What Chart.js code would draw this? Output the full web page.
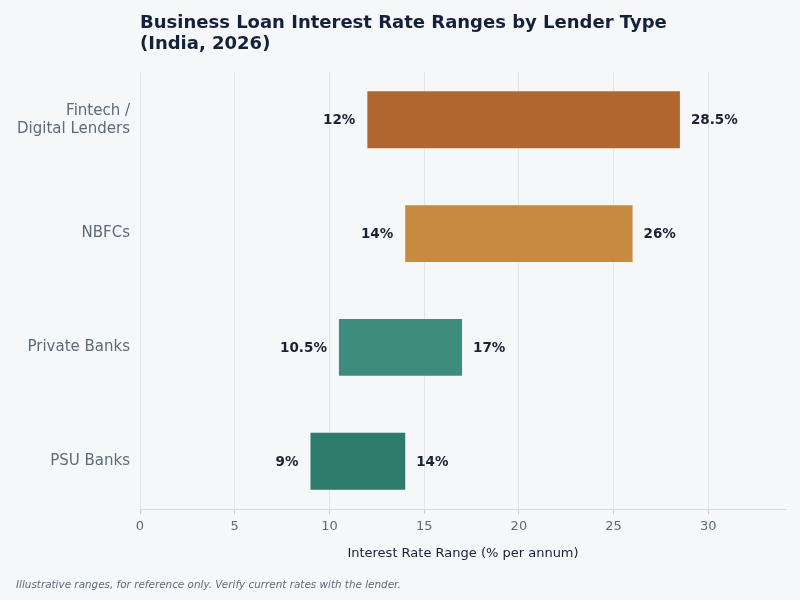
<!DOCTYPE html>
<html>
<head>
<meta charset="utf-8">
<script src="https://cdn.jsdelivr.net/npm/chart.js@4.4.1/dist/chart.umd.min.js"></script>
<style>
html,body{margin:0;padding:0;background:#f5f7f9;}
#wrap{width:800px;height:600px;}
</style>
</head>
<body>
<div id="wrap"><canvas id="chart" width="800" height="600"></canvas></div>
<script>
// lender categories, top to bottom
const lenders = [["Fintech /", "Digital Lenders"], "NBFCs", "Private Banks", "PSU Banks"];
const rateLow = [12, 14, 10.5, 9];
const rateHigh = [28.5, 26, 17, 14];
const barColors = ["#b36730", "#c68a40", "#3e8c7c", "#2e7a6c"];
const xTicks = [0, 5, 10, 15, 20, 25, 30];

const titleLines = ["Business Loan Interest Rate Ranges by Lender Type", "(India, 2026)"];
const footnote = "Illustrative ranges, for reference only. Verify current rates with the lender.";

const fmt = v => v + "%";

Chart.defaults.font.family = "'DejaVu Sans', sans-serif";

const rows = rateLow.map((lo, i) => ({x: [lo, rateHigh[i]], y: i}));

const extras = {
  id: "extras",
  afterDatasetsDraw(chart) {
    const ctx = chart.ctx;
    const meta = chart.getDatasetMeta(0);
    ctx.save();
    ctx.font = "bold 13.5px 'DejaVu Sans'";
    ctx.fillStyle = "#1a2333";
    ctx.textBaseline = "middle";
    meta.data.forEach((bar, i) => {
      ctx.textAlign = "right";
      ctx.fillText(fmt(rateLow[i]), bar.base - 12, bar.y + 1);
      ctx.textAlign = "left";
      ctx.fillText(fmt(rateHigh[i]), bar.x + 11, bar.y + 1);
    });
    ctx.restore();
  },
  afterDraw(chart) {
    const ctx = chart.ctx;
    ctx.save();
    ctx.fillStyle = "#14213a";
    ctx.font = "bold 18px 'DejaVu Sans'";
    ctx.textAlign = "left";
    ctx.textBaseline = "middle";
    titleLines.forEach((t, i) => ctx.fillText(t, chart.chartArea.left, 23 + i * 21));
    ctx.fillStyle = "#5c6b7a";
    ctx.font = "italic 10.4px 'DejaVu Sans'";
    ctx.fillText(footnote, 16, 585);
    ctx.restore();
  }
};

new Chart(document.getElementById("chart"), {
  type: "bar",
  data: {
    datasets: [{
      data: rows,
      backgroundColor: barColors,
      borderWidth: 0,
      borderSkipped: false,
      categoryPercentage: 1,
      barPercentage: 0.5
    }]
  },
  options: {
    indexAxis: "y",
    responsive: false,
    animation: false,
    layout: {padding: {top: 72, right: 14, bottom: 39, left: 0}},
    plugins: {
      legend: {display: false},
      tooltip: {enabled: false}
    },
    scales: {
      x: {
        type: "linear",
        min: 0,
        max: 34.1,
        afterBuildTicks: axis => { axis.ticks = xTicks.map(v => ({value: v})); },
        grid: {color: "#e2e6ea", tickLength: 5, tickColor: "#c9ced4"},
        border: {display: true, color: "#d6dbe0"},
        ticks: {color: "#5c6b7a", font: {size: 13}, padding: 5},
        title: {
          display: true,
          text: "Interest Rate Range (% per annum)",
          color: "#14213a",
          font: {size: 13},
          padding: {top: 0, bottom: 0}
        },
        afterFit: axis => { axis.height = 52; }
      },
      y: {
        type: "linear",
        reverse: true,
        offset: false,
        min: -0.42,
        max: 3.42,
        afterBuildTicks: axis => { axis.ticks = lenders.map((l, i) => ({value: i})); },
        grid: {display: false},
        border: {display: false},
        ticks: {
          color: "#5c6b7a",
          font: {size: 15},
          padding: 2,
          callback: v => lenders[v]
        },
        afterFit: axis => { axis.width = 140; }
      }
    }
  },
  plugins: [extras]
});
</script>
</body>
</html>
